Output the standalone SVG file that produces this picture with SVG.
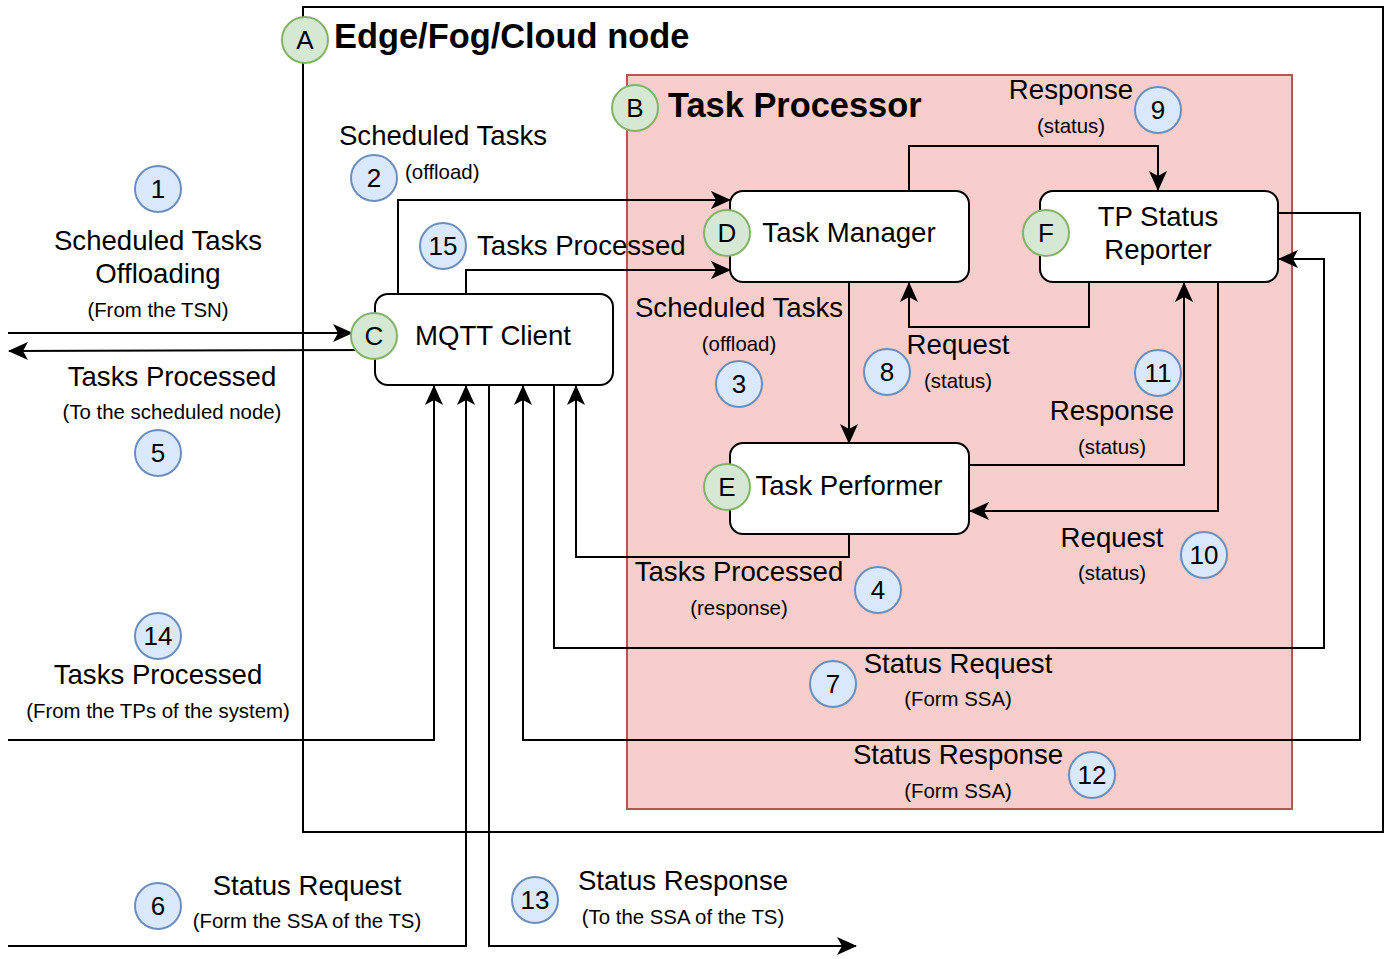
<svg xmlns="http://www.w3.org/2000/svg" width="1388" height="959" viewBox="0 0 1388 959">
<defs>
<style>
text{font-family:"Liberation Sans",Arial,Helvetica,sans-serif;fill:#000}
.t{font-size:27.6px}
.s{font-size:20.4px}
.b{font-size:34.4px;font-weight:bold}
.c{font-size:26px}
.m{text-anchor:middle}
.blue{fill:#dae8fc;stroke:#6c8ebf;stroke-width:2}
.green{fill:#d5e8d4;stroke:#82b366;stroke-width:2}
.node{fill:#fff;stroke:#000;stroke-width:2}
.ln{fill:none;stroke:#000;stroke-width:2}
</style>
<marker id="ar" viewBox="0 0 20 18" refX="19" refY="9" markerWidth="20" markerHeight="18" markerUnits="userSpaceOnUse" orient="auto">
<path d="M0,0 L20,9 L0,18 L5,9 Z" fill="#000"/>
</marker>
</defs>
<rect width="1388" height="959" fill="#fff"/>
<g id="A-box">
<rect x="303" y="7" width="1080" height="825" fill="none" stroke="#000" stroke-width="2"/>
</g>
<g id="B-box">
<rect x="627" y="75" width="665" height="734" fill="#f8cecc" stroke="#b85450" stroke-width="2"/>
</g>
<g id="connectors">
<path class="ln" d="M8,333 L352,333" marker-end="url(#ar)"/>
<path class="ln" d="M375,350 L9,351" marker-end="url(#ar)"/>
<path class="ln" d="M398,294 L398,200 L730,200" marker-end="url(#ar)"/>
<path class="ln" d="M466,294 L466,270 L730,270" marker-end="url(#ar)"/>
<path class="ln" d="M849,282 L849,443" marker-end="url(#ar)"/>
<path class="ln" d="M849,534 L849,557 L576,557 L576,386" marker-end="url(#ar)"/>
<path class="ln" d="M909,191 L909,146 L1158,146 L1158,190" marker-end="url(#ar)"/>
<path class="ln" d="M1089,282 L1089,327 L909,327 L909,283" marker-end="url(#ar)"/>
<path class="ln" d="M969,465 L1184,465 L1184,283" marker-end="url(#ar)"/>
<path class="ln" d="M1218,282 L1218,511 L970,511" marker-end="url(#ar)"/>
<path class="ln" d="M554,385 L554,648 L1324,648 L1324,259 L1279,259" marker-end="url(#ar)"/>
<path class="ln" d="M1278,213 L1360,213 L1360,740 L523,740 L523,386" marker-end="url(#ar)"/>
<path class="ln" d="M8,740 L434,740 L434,386" marker-end="url(#ar)"/>
<path class="ln" d="M8,946 L466,946 L466,386" marker-end="url(#ar)"/>
<path class="ln" d="M489,385 L489,946 L856,946" marker-end="url(#ar)"/>
</g>
<g id="node-mqtt">
<rect class="node" x="375" y="294" width="238" height="91" rx="13"/>
<text class="t m" x="493" y="345">MQTT Client</text>
</g>
<g id="node-task-manager">
<rect class="node" x="730" y="191" width="239" height="91" rx="13"/>
<text class="t m" x="849" y="242">Task Manager</text>
</g>
<g id="node-tp-status">
<rect class="node" x="1040" y="191" width="238" height="91" rx="13"/>
<text class="t m" x="1158" y="226">TP Status</text>
<text class="t m" x="1158" y="259">Reporter</text>
</g>
<g id="node-task-performer">
<rect class="node" x="730" y="443" width="239" height="91" rx="13"/>
<text class="t m" x="849" y="495">Task Performer</text>
</g>
<g id="titles">
<text class="b" x="334" y="48">Edge/Fog/Cloud node</text>
<text class="b" x="668" y="117">Task Processor</text>
</g>
<g id="labels">
<text class="t m" x="443" y="145">Scheduled Tasks</text>
<text class="s" x="405" y="179">(offload)</text>
<text class="t m" x="158" y="250">Scheduled Tasks</text>
<text class="t m" x="158" y="283">Offloading</text>
<text class="s m" x="158" y="317">(From the TSN)</text>
<text class="t m" x="172" y="386">Tasks Processed</text>
<text class="s m" x="172" y="419">(To the scheduled node)</text>
<text class="t" x="477" y="255">Tasks Processed</text>
<text class="t m" x="739" y="317">Scheduled Tasks</text>
<text class="s m" x="739" y="351">(offload)</text>
<text class="t m" x="958" y="354">Request</text>
<text class="s m" x="958" y="388">(status)</text>
<text class="t m" x="1071" y="99">Response</text>
<text class="s m" x="1071" y="133">(status)</text>
<text class="t m" x="1112" y="420">Response</text>
<text class="s m" x="1112" y="454">(status)</text>
<text class="t m" x="1112" y="547">Request</text>
<text class="s m" x="1112" y="580">(status)</text>
<text class="t m" x="739" y="581">Tasks Processed</text>
<text class="s m" x="739" y="615">(response)</text>
<text class="t m" x="958" y="673">Status Request</text>
<text class="s m" x="958" y="706">(Form SSA)</text>
<text class="t m" x="958" y="764">Status Response</text>
<text class="s m" x="958" y="798">(Form SSA)</text>
<text class="t m" x="158" y="684">Tasks Processed</text>
<text class="s m" x="158" y="718">(From the TPs of the system)</text>
<text class="t m" x="307" y="895">Status Request</text>
<text class="s m" x="307" y="928">(Form the SSA of the TS)</text>
<text class="t m" x="683" y="890">Status Response</text>
<text class="s m" x="683" y="924">(To the SSA of the TS)</text>
</g>
<g id="letter-badges">
<g id="badge-A"><circle class="green" cx="305" cy="40" r="23"/><text class="c m" x="305" y="49">A</text></g>
<g id="badge-B"><circle class="green" cx="635" cy="108" r="23"/><text class="c m" x="635" y="117">B</text></g>
<g id="badge-C"><circle class="green" cx="374" cy="336" r="23"/><text class="c m" x="374" y="345">C</text></g>
<g id="badge-D"><circle class="green" cx="727" cy="233" r="23"/><text class="c m" x="727" y="242">D</text></g>
<g id="badge-E"><circle class="green" cx="727" cy="487" r="23"/><text class="c m" x="727" y="496">E</text></g>
<g id="badge-F"><circle class="green" cx="1046" cy="233" r="23"/><text class="c m" x="1046" y="242">F</text></g>
</g>
<g id="number-badges">
<g id="n1"><circle class="blue" cx="158" cy="189" r="23"/><text class="c m" x="158" y="198">1</text></g>
<g id="n2"><circle class="blue" cx="374" cy="178" r="23"/><text class="c m" x="374" y="187">2</text></g>
<g id="n3"><circle class="blue" cx="739" cy="384" r="23"/><text class="c m" x="739" y="393">3</text></g>
<g id="n4"><circle class="blue" cx="878" cy="590" r="23"/><text class="c m" x="878" y="599">4</text></g>
<g id="n5"><circle class="blue" cx="158" cy="453" r="23"/><text class="c m" x="158" y="462">5</text></g>
<g id="n6"><circle class="blue" cx="158" cy="906" r="23"/><text class="c m" x="158" y="915">6</text></g>
<g id="n7"><circle class="blue" cx="833" cy="684" r="23"/><text class="c m" x="833" y="693">7</text></g>
<g id="n8"><circle class="blue" cx="887" cy="372" r="23"/><text class="c m" x="887" y="381">8</text></g>
<g id="n9"><circle class="blue" cx="1158" cy="110" r="23"/><text class="c m" x="1158" y="119">9</text></g>
<g id="n10"><circle class="blue" cx="1204" cy="555" r="23"/><text class="c m" x="1204" y="564">10</text></g>
<g id="n11"><circle class="blue" cx="1158" cy="373" r="23"/><text class="c m" x="1158" y="382">11</text></g>
<g id="n12"><circle class="blue" cx="1092" cy="775" r="23"/><text class="c m" x="1092" y="784">12</text></g>
<g id="n13"><circle class="blue" cx="535" cy="900" r="23"/><text class="c m" x="535" y="909">13</text></g>
<g id="n14"><circle class="blue" cx="158" cy="636" r="23"/><text class="c m" x="158" y="645">14</text></g>
<g id="n15"><circle class="blue" cx="443" cy="246" r="23"/><text class="c m" x="443" y="255">15</text></g>
</g>
</svg>
